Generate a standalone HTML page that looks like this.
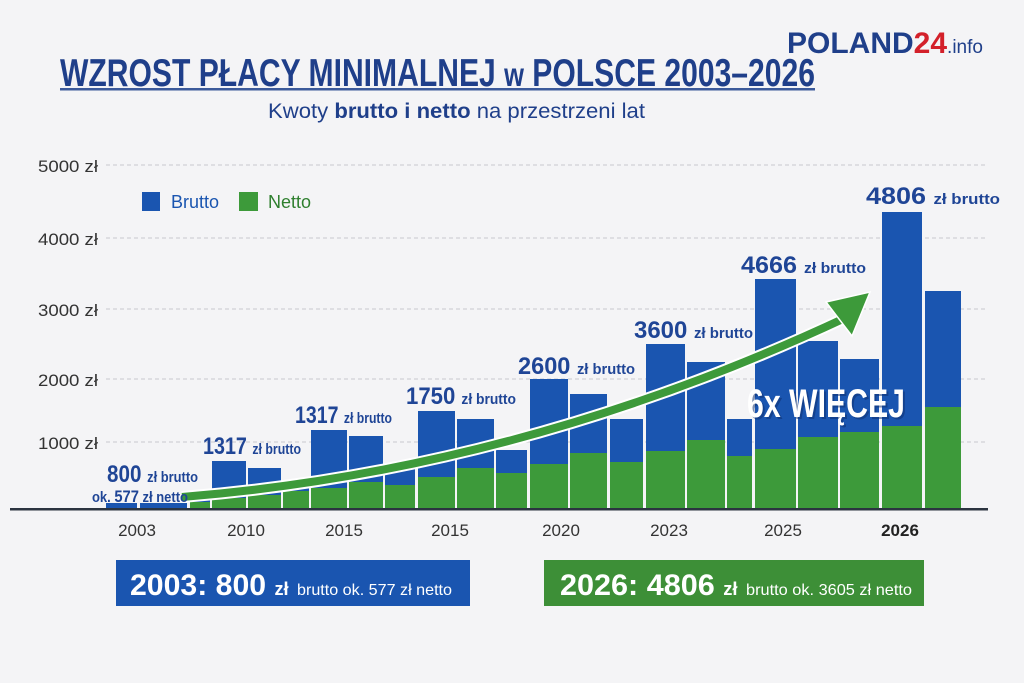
<!DOCTYPE html>
<html><head><meta charset="utf-8"><style>
html,body{margin:0;padding:0;background:#f4f4f6;}
svg{display:block;font-family:"Liberation Sans",sans-serif;}
</style></head><body>
<svg width="1024" height="683" viewBox="0 0 1024 683" xmlns="http://www.w3.org/2000/svg">
<rect width="1024" height="683" fill="#f4f4f6"/>
<text x="60" y="86" font-size="39" font-weight="bold" fill="#1f3f8a" textLength="755" lengthAdjust="spacingAndGlyphs">WZROST PŁACY MINIMALNEJ <tspan font-size="33">w</tspan> POLSCE 2003–2026</text>
<text x="787" y="53" font-size="30" font-weight="bold" fill="#1f3f8a">POLAND<tspan fill="#d3202a">24</tspan><tspan font-size="19" font-weight="normal" fill="#1f3f8a">.info</tspan></text>
<rect x="60" y="88" width="755" height="2.5" fill="#3c5a9a"/>
<text x="268" y="118" font-size="21" fill="#1f3f8a" textLength="377" lengthAdjust="spacingAndGlyphs">Kwoty <tspan font-weight="bold">brutto i netto</tspan> na przestrzeni lat</text>

<g stroke="#c9c9cf" stroke-dasharray="4,3" stroke-width="1">
<line x1="106" y1="165" x2="988" y2="165"/><line x1="106" y1="238" x2="988" y2="238"/>
<line x1="106" y1="309" x2="988" y2="309"/><line x1="106" y1="379" x2="988" y2="379"/><line x1="106" y1="442" x2="988" y2="442"/>
</g>
<g font-size="17" fill="#333">
<text x="38" y="172" textLength="60" lengthAdjust="spacingAndGlyphs">5000 zł</text>
<text x="38" y="245" textLength="60" lengthAdjust="spacingAndGlyphs">4000 zł</text>
<text x="38" y="316" textLength="60" lengthAdjust="spacingAndGlyphs">3000 zł</text>
<text x="38" y="386" textLength="60" lengthAdjust="spacingAndGlyphs">2000 zł</text>
<text x="38" y="449" textLength="60" lengthAdjust="spacingAndGlyphs">1000 zł</text>
</g>
<rect x="142" y="192" width="18" height="19" fill="#1a55b0"/>
<text x="171" y="208" font-size="18" fill="#1a55b0">Brutto</text>
<rect x="239" y="192" width="19" height="19" fill="#3d9a3a"/>
<text x="268" y="208" font-size="18" fill="#2e7f2e">Netto</text>

<g>
<rect x="106" y="503" width="31" height="6" fill="#1a55b0"/>
<rect x="140" y="503" width="47" height="6" fill="#1a55b0"/>
<rect x="190" y="499" width="20" height="10" fill="#1a55b0"/><rect x="190" y="502" width="20" height="7" fill="#3d9a3a"/>
<rect x="212" y="461" width="34" height="48" fill="#1a55b0"/><rect x="212" y="498" width="34" height="11" fill="#3d9a3a"/>
<rect x="248" y="468" width="33" height="41" fill="#1a55b0"/><rect x="248" y="495" width="33" height="14" fill="#3d9a3a"/>
<rect x="283" y="487" width="26" height="22" fill="#1a55b0"/><rect x="283" y="491" width="26" height="18" fill="#3d9a3a"/>
<rect x="311" y="430" width="36" height="79" fill="#1a55b0"/><rect x="311" y="488" width="36" height="21" fill="#3d9a3a"/>
<rect x="349" y="436" width="34" height="73" fill="#1a55b0"/><rect x="349" y="482" width="34" height="27" fill="#3d9a3a"/>
<rect x="385" y="469" width="30" height="40" fill="#1a55b0"/><rect x="385" y="485" width="30" height="24" fill="#3d9a3a"/>
<rect x="418" y="411" width="37" height="98" fill="#1a55b0"/><rect x="418" y="477" width="37" height="32" fill="#3d9a3a"/>
<rect x="457" y="419" width="37" height="90" fill="#1a55b0"/><rect x="457" y="468" width="37" height="41" fill="#3d9a3a"/>
<rect x="496" y="450" width="31" height="59" fill="#1a55b0"/><rect x="496" y="473" width="31" height="36" fill="#3d9a3a"/>
<rect x="530" y="379" width="38" height="130" fill="#1a55b0"/><rect x="530" y="464" width="38" height="45" fill="#3d9a3a"/>
<rect x="570" y="394" width="37" height="115" fill="#1a55b0"/><rect x="570" y="453" width="37" height="56" fill="#3d9a3a"/>
<rect x="610" y="419" width="33" height="90" fill="#1a55b0"/><rect x="610" y="462" width="33" height="47" fill="#3d9a3a"/>
<rect x="646" y="344" width="39" height="165" fill="#1a55b0"/><rect x="646" y="451" width="39" height="58" fill="#3d9a3a"/>
<rect x="687" y="362" width="38" height="147" fill="#1a55b0"/><rect x="687" y="440" width="38" height="69" fill="#3d9a3a"/>
<rect x="727" y="419" width="25" height="90" fill="#1a55b0"/><rect x="727" y="456" width="25" height="53" fill="#3d9a3a"/>
<rect x="755" y="279" width="41" height="230" fill="#1a55b0"/><rect x="755" y="449" width="41" height="60" fill="#3d9a3a"/>
<rect x="798" y="341" width="40" height="168" fill="#1a55b0"/><rect x="798" y="437" width="40" height="72" fill="#3d9a3a"/>
<rect x="840" y="359" width="39" height="150" fill="#1a55b0"/><rect x="840" y="432" width="39" height="77" fill="#3d9a3a"/>
<rect x="882" y="212" width="40" height="297" fill="#1a55b0"/><rect x="882" y="426" width="40" height="83" fill="#3d9a3a"/>
<rect x="925" y="291" width="36" height="218" fill="#1a55b0"/><rect x="925" y="407" width="36" height="102" fill="#3d9a3a"/>
</g>
<rect x="10" y="508" width="978" height="2.5" fill="#2b3440"/>

<path d="M182,497 Q520,470 845,318" stroke="#fff" stroke-width="12" fill="none"/>
<path d="M182,497 Q520,470 845,318" stroke="#3d9a3a" stroke-width="8" fill="none"/>
<polygon points="870,292 826,302 852,336" fill="#3d9a3a" stroke="#fff" stroke-width="1.5"/>

<text x="749" y="419" font-size="40" font-weight="bold" fill="#0d2f6e" opacity="0.5" textLength="158" lengthAdjust="spacingAndGlyphs">6x WIĘCEJ</text>
<text x="747" y="417" font-size="40" font-weight="bold" fill="#ffffff" textLength="158" lengthAdjust="spacingAndGlyphs">6x WIĘCEJ</text>

<g fill="#1f4596" font-weight="bold">
<text x="107" y="482" font-size="24" textLength="91" lengthAdjust="spacingAndGlyphs">800 <tspan font-size="15">zł brutto</tspan></text>
<text x="92" y="502" font-size="15" textLength="96" lengthAdjust="spacingAndGlyphs">ok. <tspan font-size="17">577</tspan> zł netto</text>
<text x="203" y="454" font-size="24" textLength="98" lengthAdjust="spacingAndGlyphs">1317 <tspan font-size="15">zł brutto</tspan></text>
<text x="295" y="423" font-size="24" textLength="97" lengthAdjust="spacingAndGlyphs">1317 <tspan font-size="15">zł brutto</tspan></text>
<text x="406" y="404" font-size="24" textLength="110" lengthAdjust="spacingAndGlyphs">1750 <tspan font-size="15">zł brutto</tspan></text>
<text x="518" y="374" font-size="24" textLength="117" lengthAdjust="spacingAndGlyphs">2600 <tspan font-size="15">zł brutto</tspan></text>
<text x="634" y="338" font-size="24" textLength="119" lengthAdjust="spacingAndGlyphs">3600 <tspan font-size="15">zł brutto</tspan></text>
<text x="741" y="273" font-size="24" textLength="125" lengthAdjust="spacingAndGlyphs">4666 <tspan font-size="15">zł brutto</tspan></text>
<text x="866" y="204" font-size="24" textLength="134" lengthAdjust="spacingAndGlyphs">4806 <tspan font-size="15">zł brutto</tspan></text>
</g>

<g font-size="17" fill="#333" text-anchor="middle">
<text x="137" y="536">2003</text><text x="246" y="536">2010</text><text x="344" y="536">2015</text><text x="450" y="536">2015</text>
<text x="561" y="536">2020</text><text x="669" y="536">2023</text><text x="783" y="536">2025</text><text x="900" y="536" font-weight="bold" fill="#222">2026</text>
</g>

<rect x="116" y="560" width="354" height="46" fill="#1a55b0"/>
<text x="130" y="595" font-size="30" font-weight="bold" fill="#fff" textLength="322" lengthAdjust="spacingAndGlyphs">2003: 800 <tspan font-size="18">zł</tspan> <tspan font-size="16" font-weight="normal">brutto ok. 577 zł netto</tspan></text>
<rect x="544" y="560" width="380" height="46" fill="#3d8f37"/>
<text x="560" y="595" font-size="30" font-weight="bold" fill="#fff" textLength="352" lengthAdjust="spacingAndGlyphs">2026: 4806 <tspan font-size="18">zł</tspan> <tspan font-size="16" font-weight="normal">brutto ok. 3605 zł netto</tspan></text>
</svg>
</body></html>
